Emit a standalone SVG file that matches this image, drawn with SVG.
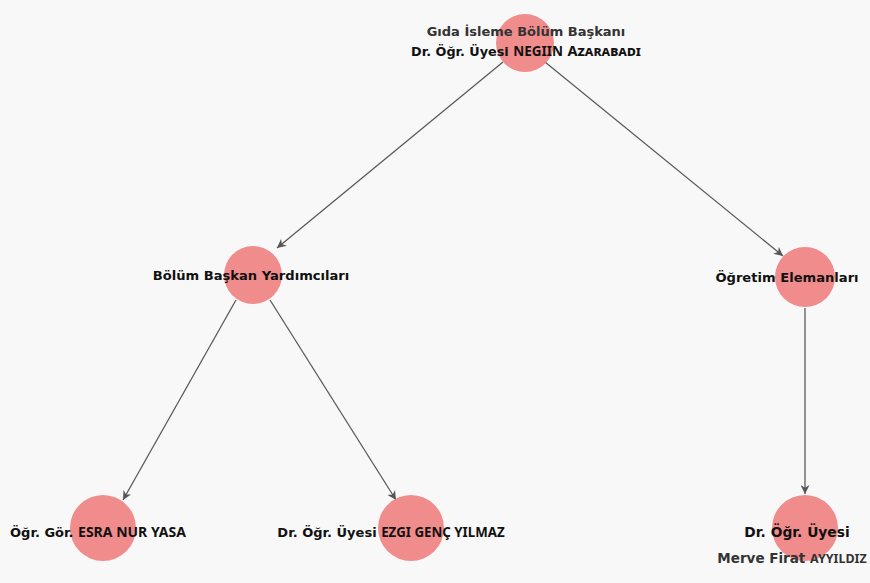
<svg xmlns="http://www.w3.org/2000/svg" width="870" height="583" viewBox="0 0 870 583">
<defs>
<marker id="arr" viewBox="0 0 10 10" refX="10" refY="5" markerWidth="9" markerHeight="9" markerUnits="userSpaceOnUse" orient="auto">
<path d="M0,0 L10,5 L0,10 L3,5 Z" fill="#555"/>
</marker>
</defs>
<style>
.bg{fill:#f8f8f8}
.n{fill:#f08080;fill-opacity:0.9}
.e{stroke:#5a5a5a;stroke-width:1.3;fill:none;marker-end:url(#arr)}
.t{font-family:"DejaVu Sans",sans-serif;font-weight:bold;font-size:12.8px;fill:#111;text-anchor:middle}
.c{font-family:"Noto Sans","DejaVu Sans",sans-serif;font-weight:bold;font-size:13.5px}
.g{fill:#333}
</style>
<rect class="bg" width="870" height="583"/>
<g id="connectors">
<line class="e" x1="503" y1="62" x2="277" y2="248"/>
<line class="e" x1="545" y1="62" x2="783" y2="256"/>
<line class="e" x1="236" y1="300" x2="123" y2="500"/>
<line class="e" x1="270" y1="300" x2="396" y2="500"/>
<line class="e" x1="805" y1="308" x2="805" y2="494"/>
</g>
<g id="root">
<circle class="n" cx="525" cy="43" r="29"/>
<text class="t g" x="526" y="36" style="font-size:13px">Gıda İsleme Bölüm Başkanı</text>
<text class="t" x="526" y="56">Dr. Öğr. Üyesi <tspan class="c">NEGIIN</tspan> <tspan class="c" style="font-variant:small-caps;font-size:14.5px">Azarabadi</tspan></text>
</g>
<g id="yardimcilar">
<circle class="n" cx="253" cy="275" r="29"/>
<text class="t" x="251" y="280" style="font-size:13.1px">Bölüm Başkan Yardımcıları</text>
</g>
<g id="elemanlar">
<circle class="n" cx="805" cy="277" r="30"/>
<text class="t" x="787" y="282" style="font-size:13.1px">Öğretim Elemanları</text>
</g>
<g id="esra">
<circle class="n" cx="103" cy="528" r="33"/>
<text class="t" x="98" y="537" style="font-size:13px">Öğr. Gör. <tspan class="c" style="font-size:14px">ESRA NUR YASA</tspan></text>
</g>
<g id="ezgi">
<circle class="n" cx="411" cy="528" r="33"/>
<text class="t" x="391" y="537" style="font-size:13px">Dr. Öğr. Üyesi <tspan class="c" style="font-size:13.3px">EZGI GENÇ YILMAZ</tspan></text>
</g>
<g id="merve">
<circle class="n" cx="805" cy="528" r="33"/>
<text class="t" x="797" y="537" style="font-size:13.8px">Dr. Öğr. Üyesi</text>
<text class="t g" x="792" y="563" style="font-size:13.5px">Merve Firat <tspan class="c" style="font-size:12.5px">AYYILDIZ</tspan></text>
</g>
</svg>
